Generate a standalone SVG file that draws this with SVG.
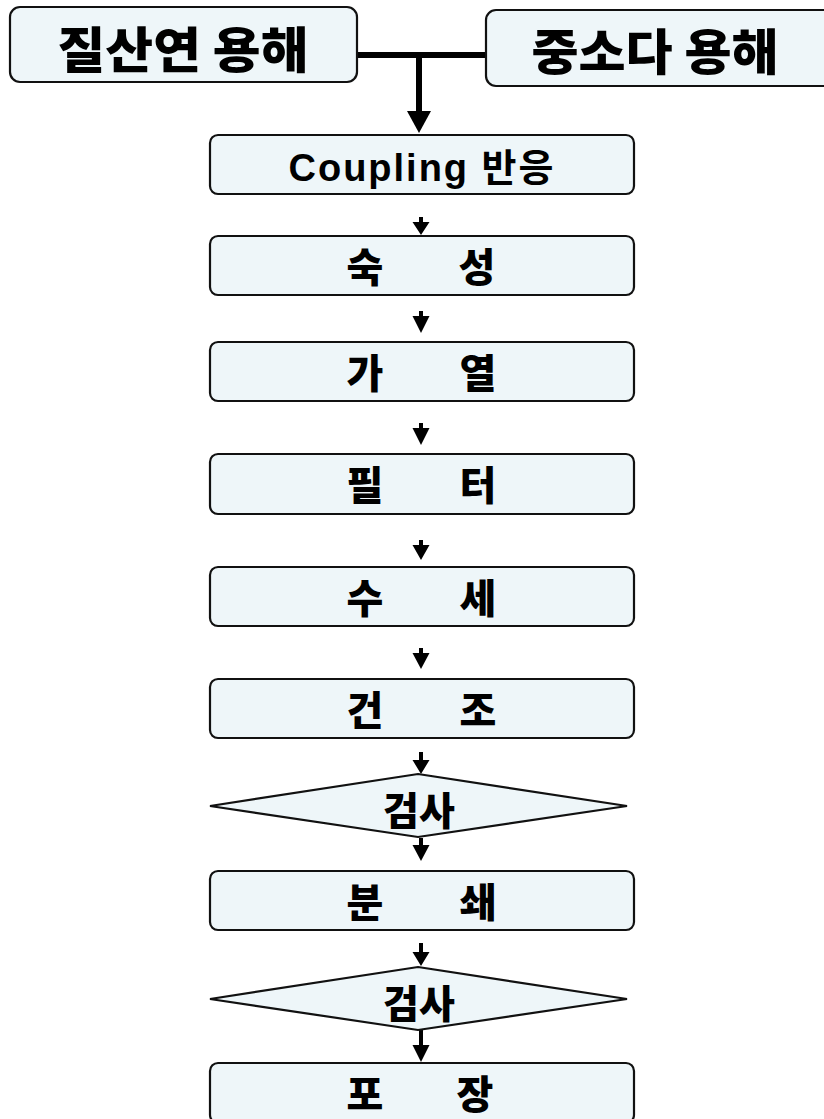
<svg xmlns="http://www.w3.org/2000/svg" width="824" height="1119" viewBox="0 0 824 1119">
<defs>
<style>
.box{fill:#EEF6F9;stroke:#111;stroke-width:2.2}
.t{font-family:"Noto Sans CJK KR","Noto Sans CJK SC",sans-serif;font-weight:900;fill:#000;text-anchor:middle}
.big{font-size:49px}
.mid{font-size:40px}
.dia{font-size:39px}
.lat{font-family:"Liberation Sans","Noto Sans CJK KR",sans-serif;font-weight:700;font-size:38px;fill:#000;text-anchor:middle}
.arr{fill:#000;stroke:none}
.thick{stroke:#000;stroke-width:6;fill:none}
</style>
</defs>
<rect width="824" height="1119" fill="#FFFFFF"/>

<g id="connectors">
  <line class="thick" x1="356" y1="55" x2="487" y2="55"/>
  <line class="thick" x1="419" y1="52" x2="419" y2="112"/>
  <polygon class="arr" points="407,111 431,111 419,133"/>
  <path class="arr" d="M419,217 h4 v5 h6.5 l-8.5,13 l-8.5,-13 h6.5 z"/>
  <path class="arr" d="M419,311 h4 v5 h6.5 l-8.5,17 l-8.5,-17 h6.5 z"/>
  <path class="arr" d="M419,423 h4 v5 h6.5 l-8.5,17 l-8.5,-17 h6.5 z"/>
  <path class="arr" d="M419,540 h4 v5 h6.5 l-8.5,15 l-8.5,-15 h6.5 z"/>
  <path class="arr" d="M419,648 h4 v5 h6.5 l-8.5,16 l-8.5,-16 h6.5 z"/>
  <path class="arr" d="M419,752 h4 v8 h6.5 l-8.5,14 l-8.5,-14 h6.5 z"/>
  <path class="arr" d="M419,838 h4 v7 h6.5 l-8.5,16 l-8.5,-16 h6.5 z"/>
  <path class="arr" d="M419,943 h4 v9 h6.5 l-8.5,14 l-8.5,-14 h6.5 z"/>
  <path class="arr" d="M419,1030 h4 v15 h6.5 l-8.5,17 l-8.5,-17 h6.5 z"/>
</g>

<g id="node-jilsanyeon">
  <rect class="box" x="10" y="7" width="347" height="75" rx="10"/>
  <text class="t big" x="183" y="68" textLength="251" lengthAdjust="spacingAndGlyphs">질산연 용해</text>
</g>
<g id="node-jungsoda">
  <rect class="box" x="486" y="10" width="350" height="76" rx="10"/>
  <text class="t big" x="655" y="70" textLength="247" lengthAdjust="spacingAndGlyphs">중소다 용해</text>
</g>
<g id="node-coupling">
  <rect class="box" x="210" y="135" width="424" height="59" rx="8"/>
  <text class="lat" x="421" y="181" textLength="265" lengthAdjust="spacing">Coupling 반응</text>
</g>
<g id="node-suksung">
  <rect class="box" x="210" y="236" width="424" height="59" rx="8"/>
  <text class="t mid" x="365 421 477" y="282">숙 성</text>
</g>
<g id="node-gayeol">
  <rect class="box" x="210" y="342" width="424" height="59" rx="8"/>
  <text class="t mid" x="365 421 478" y="388">가 열</text>
</g>
<g id="node-filter">
  <rect class="box" x="210" y="454" width="424" height="60" rx="8"/>
  <text class="t mid" x="365 421 478" y="500">필 터</text>
</g>
<g id="node-susae">
  <rect class="box" x="210" y="567" width="424" height="59" rx="8"/>
  <text class="t mid" x="365 421 478" y="613">수 세</text>
</g>
<g id="node-geonjo">
  <rect class="box" x="210" y="679" width="424" height="59" rx="8"/>
  <text class="t mid" x="365 421 478" y="725">건 조</text>
</g>
<g id="node-check1">
  <polygon class="box" points="418,774 627,806 418,837 210,806"/>
  <text class="t dia" x="419" y="825">검사</text>
</g>
<g id="node-bunswae">
  <rect class="box" x="210" y="871" width="424" height="59" rx="8"/>
  <text class="t mid" x="365 421 478" y="917">분 쇄</text>
</g>
<g id="node-check2">
  <polygon class="box" points="418,967 627,999 418,1030 210,999"/>
  <text class="t dia" x="419" y="1018">검사</text>
</g>
<g id="node-pojang">
  <rect class="box" x="210" y="1063" width="424" height="60" rx="8"/>
  <text class="t mid" x="365 421 475" y="1109">포 장</text>
</g>
</svg>
